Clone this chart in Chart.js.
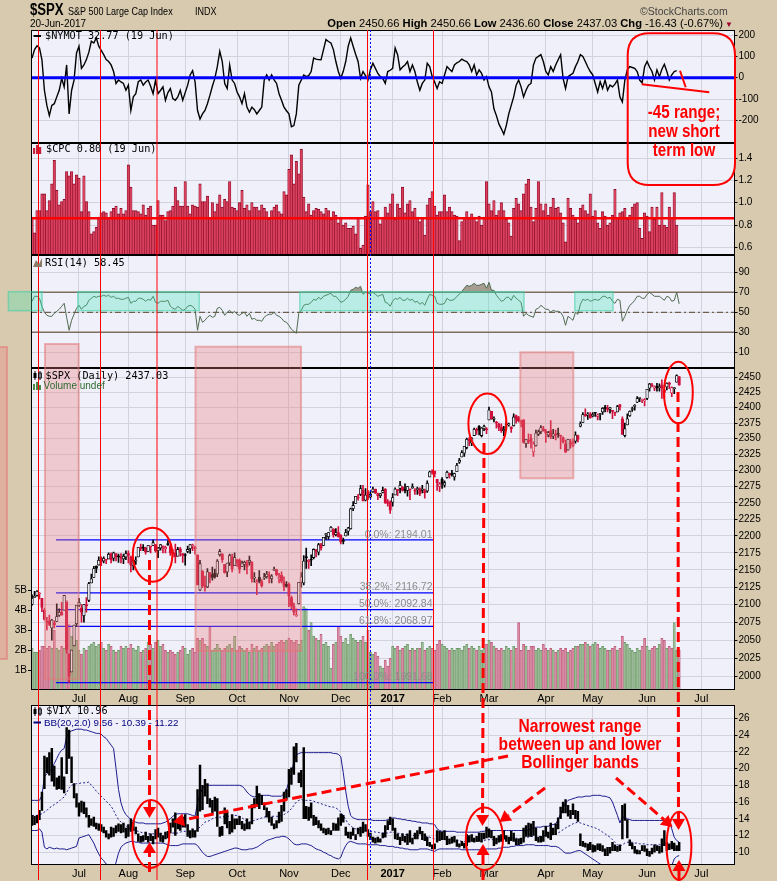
<!DOCTYPE html>
<html>
<head>
<meta charset="utf-8">
<title>$SPX with $NYMOT, $CPC, RSI and $VIX</title>
<script src="https://cdn.jsdelivr.net/npm/chart.js@4.4.1/dist/chart.umd.min.js"></script>
<style>
  html, body { margin: 0; padding: 0; background: #d8caae; }
  #wrap { position: relative; width: 777px; height: 881px; overflow: hidden; background: #d8caae; }
  #wrap canvas { position: absolute; left: 0; }
  .t { position: absolute; white-space: nowrap; line-height: 1; color: #000; }
  .mono { font-family: 'DejaVu Sans Mono', monospace; font-size: 10.2px; }
  .sans { font-family: 'Liberation Sans', Arial, sans-serif; }
  .narrow { font-family: 'Liberation Sans', Arial, sans-serif; transform: scaleX(0.82); transform-origin: 0 0; }
  .note { position: absolute; color: #ff0000; font-weight: bold; text-align: center; white-space: nowrap;
          font-family: 'Liberation Sans', Arial, sans-serif; transform: scaleX(0.82); transform-origin: 50% 0; }
</style>
</head>
<body>
<div id="wrap">
  <canvas id="cNymot" width="777" height="113" style="top:30px"></canvas>
  <canvas id="cCpc" width="777" height="112" style="top:143px"></canvas>
  <canvas id="cRsi" width="777" height="113" style="top:255px"></canvas>
  <canvas id="cSpx" width="777" height="338" style="top:368px"></canvas>
  <canvas id="cVix" width="777" height="176" style="top:705px"></canvas>
  <canvas id="overlay" width="777" height="881" style="top:0"></canvas>

  <div class="t narrow" style="left:30px;top:2px;font-size:16px;font-weight:bold">$SPX</div>
  <div class="t narrow" style="left:68px;top:5.8px;font-size:11px">S&amp;P 500 Large Cap Index</div>
  <div class="t narrow" style="left:195px;top:5.8px;font-size:11px">INDX</div>
  <div class="t sans" style="left:30px;top:18.5px;font-size:10px">20-Jun-2017</div>
  <div class="t sans" style="left:640px;top:5.5px;font-size:10.5px;color:#444">©StockCharts.com</div>
  <div class="t sans" style="right:44px;top:17.5px;font-size:11.2px"><b>Open</b> 2450.66 <b>High</b> 2450.66 <b>Low</b> 2436.60 <b>Close</b> 2437.03 <b>Chg</b> -16.43 (-0.67%)<span style="color:#a0002a;font-size:8px"> ▼</span></div>

  <div class="t mono" style="left:45px;top:31px">$NYMOT 32.77 (19 Jun)</div>
  <div class="t mono" style="left:46px;top:144.4px">$CPC 0.80 (19 Jun)</div>
  <div class="t mono" style="left:45px;top:257.8px">RSI(14) 58.45</div>
  <div class="t mono" style="left:45.6px;top:370.8px">$SPX (Daily) 2437.03</div>
  <div class="t sans" style="left:43.6px;top:380.8px;font-size:10px;color:#2e6b30">Volume undef</div>
  <div class="t mono" style="left:46.3px;top:706px">$VIX 10.96</div>
  <div class="t sans" style="left:44px;top:717.5px;font-size:9.8px;color:#000080">BB(20,2.0) 9.56 - 10.39 - 11.22</div>

  <div class="note" style="left:633.7px;width:100px;top:102.4px;font-size:18.5px;line-height:19px">-45 range;<br>new short<br>term low</div>
  <div class="note" style="left:479.5px;width:200px;top:716.5px;font-size:19px;line-height:18px">Narrowest range<br>between up and lower<br>Bollinger bands</div>
</div>

<script>
// ── Time axis (trading-day index, 0 = 1 Jul 2016) ─────────────────────────
const FIRST_IDX = -19;             // 6 Jun 2016
const X_MIN = -19.43, X_MAX = 265.4;
const monthIdx    = [0, 20, 43, 64, 85, 106, 127, 147, 166, 189, 208, 230, 252];
const monthLabels = ['Jul', 'Aug', 'Sep', 'Oct', 'Nov', 'Dec', '2017', 'Feb', 'Mar', 'Apr', 'May', 'Jun', 'Jul'];

// ── Tick labels ────────────────────────────────────────────────────────────
const nymotTicks = [-200, -100, 0, 100, 200];
const cpcTicks   = [0.6, 0.8, 1.0, 1.2, 1.4];
const rsiTicks   = [10, 30, 50, 70, 90];
const spxTicks   = [2000, 2025, 2050, 2075, 2100, 2125, 2150, 2175, 2200, 2225, 2250, 2275, 2300, 2325, 2350, 2375, 2400, 2425, 2450];
const volTicks   = [1, 2, 3, 4, 5];
const vixTicks   = [10, 12, 14, 16, 18, 20, 22, 24, 26];

// ── $SPX daily OHLC, 6 Jun 2016 .. 20 Jun 2017 ─────────────────────────────
const spxOpen = [
  2100,2110,2113,2115,2109,2092,2076,2077,2067,2074,2076,2085,2089,2092,2103,2031,2006,2042,2073,
  2099,2095,2084,2100,2106,2131,2139,2155,2157,2165,2163,2164,2166,2173,2167,2174,2169,2169,2166,2169,
  2174,2169,2156,2163,2169,2183,2182,2182,2177,2184,2186,2187,2178,2182,2184,2181,2187,2185,2176,2175,2170,2181,2174,
  2171,2177,2181,2185,2183,2172,2121,2148,2128,2125,2146,2143,2145,2144,2172,2173,2158,2147,2160,2169,2156,
  2165,2164,2155,2158,2160,2161,2161,2138,2131,2139,2133,2138,2140,2142,2137,2149,2150,2137,2142,2132,2129,
  2129,2110,2098,2084,2101,2132,2131,2168,2162,2165,2168,2177,2176,2187,2186,2202,2199,2207,2210,2202,2205,
  2201,2192,2200,2207,2211,2241,2249,2259,2263,2269,2254,2267,2259,2267,2271,2264,2261,2266,2271,2252,2251,
  2251,2262,2269,2272,2274,2269,2269,2271,2273,2269,2270,2272,2269,2268,2268,2290,2299,2299,2286,2275,
  2286,2277,2289,2294,2296,2290,2298,2313,2321,2327,2336,2350,2343,2355,2364,2370,2355,2366,2366,
  2380,2394,2381,2375,2373,2369,2363,2372,2372,2369,2371,2387,2384,2379,2380,2342,2346,2351,2329,2339,2357,2361,2366,
  2362,2356,2363,2354,2357,2357,2355,2352,2342,2332,2343,2346,2346,2355,2370,2376,2389,2388,2390,
  2387,2391,2386,2389,2393,2401,2399,2397,2394,2392,2393,2405,2382,2355,2372,2387,2397,2402,2409,2415,2412,2411,
  2415,2432,2437,2432,2435,2433,2437,2425,2434,2441,2424,2431,2442,2451
];
const spxHigh = [
  2114,2119,2120,2117,2109,2095,2082,2085,2079,2077,2101,2094,2103,2113,2103,2031,2036,2071,2099,
  2109,2100,2100,2110,2132,2144,2155,2156,2169,2169,2169,2165,2175,2175,2176,2174,2173,2174,2173,2178,
  2178,2170,2165,2169,2183,2188,2187,2183,2186,2184,2194,2187,2183,2187,2185,2185,2193,2186,2180,2188,2183,2183,2174,
  2174,2185,2187,2188,2185,2172,2164,2149,2141,2152,2146,2154,2151,2165,2180,2174,2158,2160,2173,2173,2175,
  2165,2166,2163,2163,2164,2170,2162,2146,2136,2149,2136,2145,2148,2147,2143,2154,2151,2145,2147,2140,2133,
  2131,2112,2102,2094,2132,2146,2171,2182,2165,2172,2181,2180,2189,2189,2198,2204,2205,2214,2211,2211,2214,
  2202,2197,2210,2213,2242,2252,2260,2263,2277,2277,2272,2269,2267,2274,2271,2265,2264,2274,2272,2255,2253,
  2264,2273,2270,2283,2275,2279,2275,2271,2279,2272,2274,2273,2277,2271,2284,2299,2301,2299,2286,2281,
  2289,2284,2299,2296,2300,2296,2311,2319,2331,2338,2351,2352,2352,2367,2367,2371,2368,2372,2368,
  2401,2394,2385,2378,2375,2374,2370,2377,2375,2369,2390,2388,2386,2380,2381,2349,2358,2357,2345,2364,2364,2371,2370,
  2365,2362,2379,2365,2364,2367,2356,2353,2348,2349,2349,2350,2361,2356,2377,2392,2398,2392,2392,
  2392,2392,2390,2391,2400,2404,2404,2400,2395,2393,2404,2405,2385,2375,2390,2395,2401,2405,2418,2416,2414,2415,
  2430,2440,2440,2436,2440,2439,2446,2430,2441,2442,2434,2433,2454,2451
];
const spxLow = [
  2099,2110,2112,2108,2090,2078,2064,2070,2050,2067,2076,2083,2085,2092,2032,1992,2006,2042,2069,
  2097,2075,2075,2089,2104,2131,2139,2146,2157,2156,2160,2159,2166,2160,2163,2163,2161,2160,2159,2165,
  2160,2147,2150,2158,2169,2178,2178,2173,2177,2175,2186,2176,2168,2179,2175,2175,2186,2171,2169,2160,2170,2170,2161,
  2157,2175,2174,2178,2173,2128,2120,2124,2119,2124,2131,2135,2138,2140,2170,2161,2145,2140,2156,2147,2156,
  2155,2145,2155,2150,2144,2157,2132,2132,2114,2131,2125,2136,2138,2131,2131,2149,2141,2131,2131,2120,2125,
  2097,2094,2085,2083,2101,2125,2128,2152,2152,2156,2166,2169,2172,2179,2186,2195,2195,2207,2198,2200,2198,
  2188,2188,2200,2201,2210,2238,2249,2254,2261,2253,2253,2255,2257,2266,2264,2255,2258,2265,2249,2245,2234,
  2245,2262,2261,2265,2268,2265,2260,2255,2272,2263,2263,2261,2265,2257,2266,2290,2294,2290,2269,2267,
  2272,2274,2288,2288,2291,2285,2298,2311,2321,2322,2334,2339,2339,2355,2357,2356,2353,2363,2358,
  2380,2381,2377,2367,2363,2360,2355,2365,2370,2360,2370,2375,2377,2369,2343,2336,2342,2335,2322,2338,2355,2358,2362,
  2344,2353,2350,2350,2348,2352,2334,2343,2328,2332,2335,2337,2343,2345,2369,2376,2386,2381,2383,
  2385,2386,2380,2380,2389,2393,2393,2391,2382,2387,2393,2396,2357,2353,2372,2386,2394,2396,2408,2410,2408,2403,
  2413,2427,2434,2428,2427,2427,2415,2416,2429,2431,2418,2423,2442,2437
];
const spxClose = [
  2109,2112,2119,2116,2096,2079,2075,2072,2078,2071,2083,2089,2085,2113,2037,2001,2036,2071,2099,
  2103,2089,2100,2098,2130,2137,2152,2152,2164,2162,2167,2164,2173,2165,2175,2169,2169,2167,2170,2174,
  2171,2157,2164,2164,2183,2181,2182,2176,2186,2184,2190,2178,2182,2187,2184,2183,2187,2175,2173,2169,2180,2176,2171,
  2171,2180,2187,2186,2181,2128,2159,2127,2126,2147,2139,2139,2140,2163,2177,2165,2146,2160,2171,2151,2168,
  2161,2151,2160,2161,2154,2164,2137,2139,2133,2133,2127,2140,2144,2141,2141,2151,2143,2139,2133,2126,2126,
  2112,2098,2089,2085,2132,2140,2163,2168,2164,2164,2180,2177,2187,2182,2198,2203,2205,2213,2202,2205,2199,
  2191,2192,2205,2212,2241,2246,2260,2257,2272,2253,2262,2258,2263,2271,2265,2261,2264,2269,2250,2249,2239,
  2258,2271,2269,2277,2269,2269,2275,2270,2275,2268,2272,2264,2271,2265,2280,2298,2297,2295,2281,2279,
  2280,2281,2297,2293,2293,2295,2308,2316,2328,2338,2349,2347,2351,2365,2363,2364,2367,2370,2364,
  2396,2382,2383,2375,2368,2363,2365,2373,2374,2366,2385,2381,2378,2374,2344,2349,2346,2344,2342,2359,2361,2368,2363,
  2359,2360,2353,2358,2356,2357,2354,2345,2329,2349,2342,2338,2356,2349,2374,2389,2387,2389,2384,
  2388,2391,2388,2390,2399,2399,2397,2400,2394,2391,2402,2401,2357,2366,2382,2394,2398,2404,2415,2416,2413,2412,
  2430,2439,2436,2433,2433,2434,2432,2429,2440,2438,2433,2433,2453,2437
];
// Volume, billions of shares
const spxVolume = [
  2.1,1.9,1.9,2.0,2.2,2.2,2.1,2.2,2.1,3.0,2.1,2.0,2.2,2.1,4.5,3.3,2.7,2.3,2.5,
  2.0,1.8,2.1,2.0,2.2,2.3,2.4,2.2,2.3,2.4,2.1,2.0,2.3,2.2,2.0,1.9,2.0,2.2,2.1,2.2,
  2.1,2.3,2.1,2.0,2.2,1.9,2.0,2.1,2.4,2.3,2.1,2.4,2.5,2.2,2.3,2.0,1.9,2.0,1.9,1.8,1.9,2.0,2.2,
  2.1,1.8,2.0,2.1,1.9,2.6,2.5,2.6,2.3,2.2,3.2,2.0,2.1,2.3,2.1,2.0,2.1,2.2,2.3,2.1,2.7,
  2.0,2.2,2.1,2.0,2.1,1.9,2.3,2.1,2.2,2.0,2.1,2.2,2.3,2.2,2.4,2.2,2.3,2.4,2.5,2.4,2.5,
  2.6,2.5,2.4,2.5,2.3,2.5,4.2,4.1,3.0,3.4,2.7,2.6,2.5,2.8,2.3,2.4,2.2,1.1,2.3,2.4,3.2,
  2.7,2.4,2.6,2.3,2.8,2.6,2.5,2.4,2.5,2.7,2.4,3.0,1.9,1.8,1.9,1.7,1.2,1.1,1.5,1.2,1.6,
  2.2,2.1,2.2,2.0,2.1,2.2,2.3,2.0,2.1,2.0,2.1,2.1,2.4,2.0,2.1,2.2,2.1,2.0,2.3,2.5,
  2.3,2.2,2.1,2.0,2.1,2.0,2.1,2.1,2.0,2.2,2.3,2.1,2.2,2.1,2.0,2.2,2.0,2.1,2.3,
  2.5,2.4,2.2,2.1,2.0,2.1,2.0,2.2,2.1,2.0,2.2,2.1,3.4,2.0,2.3,2.2,2.0,2.2,2.2,2.0,2.1,2.0,2.3,
  2.1,2.0,2.1,2.0,1.9,2.0,2.1,2.0,2.1,1.9,2.0,2.1,2.2,2.2,2.3,2.3,2.4,2.3,2.2,
  2.3,2.4,2.3,2.1,2.2,2.1,2.0,2.0,2.1,2.2,2.0,2.1,2.7,2.4,2.3,2.1,2.0,1.9,2.1,2.0,2.2,2.6,
  2.2,2.0,2.1,2.2,2.1,2.3,2.6,2.5,2.1,2.2,2.1,3.4,2.0,2.0
];

// ── $NYMOT (McClellan Oscillator), 6 Jun 2016 .. 19 Jun 2017 ───────────────
const nymot = [
  92,132,150,140,84,-59,-130,-178,-130,-122,-90,-59,-3,-43,60,-170,-60,-11,116,
  148,44,60,85,120,171,163,187,148,128,108,85,76,60,29,-27,-11,-20,-27,-59,
  -35,-154,-90,-75,-19,-11,-35,-20,-11,-40,-75,-11,-75,-60,-43,-106,-70,-51,-98,-106,
  -90,-59,-106,-70,-35,13,33,-19,-154,-194,-170,-154,-122,-83,-40,-3,52,124,76,-27,
  -51,60,-11,-27,-67,-90,-122,-75,-138,-162,-138,-150,-170,-154,-138,-11,13,-11,13,-10,
  -27,-75,-106,-138,-155,-170,-230,-225,-170,-35,-11,13,5,10,29,92,87,85,84,132,
  179,170,163,132,76,29,-3,30,76,148,187,148,110,76,-3,29,10,-11,37,68,
  44,20,5,-3,-27,29,35,44,140,108,37,50,60,76,29,60,29,-20,-59,-27,
  -11,68,52,5,-20,-51,-19,-27,13,52,40,29,60,70,76,87,80,76,60,29,
  60,13,37,20,-11,5,-43,-67,-146,-178,-217,-240,-265,-225,-170,-130,-90,-35,-11,-43,
  -90,-59,-35,-27,60,92,100,108,76,29,13,52,29,60,84,108,-3,-51,5,13,
  21,52,76,108,100,76,50,29,13,-27,-67,-19,-51,-11,-59,-35,-43,-30,-11,-90,
  -114,-11,37,52,48,44,29,-11,-24,52,76,50,29,-11,37,5,40,63,29,-11,
  13,29,33
];

// ── $CPC (equity put/call ratio), 6 Jun 2016 .. 19 Jun 2017 ────────────────
const cpc = [
  0.87,0.73,0.93,0.93,1.08,1.08,0.93,1.02,1.17,1.38,1.11,0.98,1.01,1.03,1.28,1.24,1.28,1.17,1.25,1.22,
  0.92,1.24,1.01,0.92,0.72,0.74,0.78,0.87,0.91,0.92,0.91,0.86,0.92,0.95,0.97,0.90,0.95,0.90,0.93,1.34,
  1.14,0.93,0.93,0.92,0.90,0.98,0.89,0.95,0.97,0.80,0.80,1.02,0.89,0.89,0.84,0.92,0.93,0.97,1.14,1.02,
  0.97,0.97,1.19,0.97,0.90,0.98,0.97,0.96,1.17,1.01,1.01,1.06,0.86,1.00,0.92,
  0.99,1.07,0.96,1.03,1.01,1.19,0.96,0.95,0.93,1.00,
  1.11,0.95,0.98,0.93,1.00,0.96,0.96,0.93,0.98,0.95,
  0.92,0.85,0.93,0.96,0.98,0.92,0.90,1.10,1.07,1.30,
  1.43,1.17,1.37,1.26,1.48,1.05,0.92,0.99,0.89,0.93,
  0.95,0.94,0.92,0.90,0.95,0.93,0.85,0.92,0.89,0.82,
  0.87,0.80,0.82,0.77,0.77,0.79,0.72,0.86,0.59,0.62,
  0.88,1.16,0.92,1.01,0.92,0.93,0.81,0.87,0.96,0.91,
  0.99,1.08,0.85,0.99,0.95,1.14,0.91,0.99,1.02,0.92,
  0.95,0.87,0.83,0.86,0.71,0.98,1.04,1.10,0.97,0.89,
  0.92,0.92,1.07,0.92,0.96,0.92,0.89,0.88,0.66,0.83,
  0.86,0.92,0.87,0.90,0.87,0.83,0.88,0.80,0.87,1.19,
  0.99,0.93,1.02,0.89,0.93,1.00,0.93,0.85,0.82,0.70,
  0.95,1.04,0.99,0.93,1.08,1.17,1.21,0.96,0.83,0.95,
  1.19,0.99,0.93,0.99,0.89,0.96,1.04,0.95,0.96,0.91,
  0.82,0.65,1.04,0.95,0.89,0.85,0.82,0.95,0.98,0.93,
  0.90,1.08,0.88,0.93,0.82,0.77,0.92,0.88,0.80,0.82,
  0.89,1.12,0.86,0.91,0.92,0.95,0.85,0.89,0.96,0.99,
  1.00,0.77,0.68,0.91,0.88,0.74,0.96,0.85,0.96,0.80,
  1.09,0.80,0.78,0.96,0.86,1.09,0.80
];

// ── RSI(14) of $SPX, 6 Jun 2016 .. 20 Jun 2017 ─────────────────────────────
const rsi = [
  61,66,66,64,56,50,47,46,46,49,51,53,56,59,45,32,42,48,54,
  57,53,56,57,62,64,66,65,66,66,67,66,67,65,66,64,64,63,63,64,
  65,59,61,61,64,64,63,61,63,62,66,60,59,61,61,61,62,56,54,53,
  56,54,52,53,56,57,56,53,32,46,40,42,45,47,45,46,54,55,52,47,
  50,52,49,51,48,47,49,50,46,49,43,44,42,42,41,45,47,48,48,50,
  47,46,44,41,40,37,33,31,29,49,52,57,58,58,60,63,62,65,63,66,
  67,68,69,66,66,63,60,61,63,66,72,73,75,74,76,68,70,69,69,70,
  68,66,67,68,60,59,56,61,64,63,65,62,62,64,62,63,60,61,58,60,
  57,63,68,67,66,59,58,58,59,64,62,62,63,66,68,71,74,77,76,77,
  79,77,77,78,79,74,80,72,72,67,64,61,62,65,65,62,67,64,62,60,
  46,49,47,46,45,53,54,57,55,53,53,50,52,51,51,50,46,37,46,44,
  42,50,48,58,63,62,63,61,62,63,62,63,66,66,64,65,61,59,63,62,
  41,46,52,57,59,62,66,66,64,64,68,70,68,66,66,66,64,62,66,65,
  61,62,70,58.45
];

// ── $VIX daily range, 6 Jun 2016 .. 20 Jun 2017 ────────────────────────────
const vixLow = [
  13.2,13.3,13.5,13.9,15.0,17.6,19.5,19.2,18.5,17.9,17.5,17.6,17.5,17.1,19.4,21.2,18.3,16.5,15.4,
  14.3,14.8,14.6,14.2,13.0,13.2,13.1,12.8,12.6,12.5,12.3,11.8,11.6,11.8,11.9,12.3,12.5,12.3,12.4,11.7,
  11.9,12.5,12.6,12.2,11.3,11.2,11.3,11.5,11.2,11.4,11.0,11.6,11.8,11.3,11.2,11.6,11.7,12.3,13.0,12.0,12.8,12.6,13.0,
  13.0,11.9,11.7,11.8,11.8,12.5,14.9,15.1,16.7,15.8,15.4,14.6,14.9,13.1,11.9,12.0,13.4,12.9,12.2,12.4,12.8,
  13.3,13.3,12.8,12.6,12.8,12.8,13.4,15.3,15.6,15.2,15.7,15.1,14.2,13.6,13.2,12.8,12.9,13.5,13.7,14.9,16.3,
  16.6,18.1,19.3,20.8,18.3,17.8,14.0,14.0,13.8,14.1,13.2,13.3,12.9,12.6,12.3,12.1,12.2,12.1,12.6,12.6,12.6,
  13.2,13.6,12.0,11.7,11.6,12.0,11.5,12.2,11.9,12.3,12.5,11.9,11.5,11.2,11.1,11.2,11.2,11.7,11.8,12.7,13.3,
  12.6,11.6,11.5,10.9,11.4,11.2,10.9,11.2,11.0,11.6,11.6,12.2,11.5,11.4,10.8,10.7,10.4,10.4,11.2,11.4,
  11.5,11.5,10.9,11.0,11.1,11.2,10.7,10.6,10.8,10.5,10.8,11.2,11.3,11.2,11.3,11.3,11.2,11.6,11.7,
  11.8,11.7,10.8,11.0,11.2,11.3,11.6,11.3,11.0,11.4,11.3,10.9,10.9,11.0,11.2,11.9,11.9,11.9,12.0,11.4,11.2,11.2,11.3,
  11.9,11.7,11.5,12.1,12.1,12.8,14.0,14.7,14.7,14.3,14.0,14.5,14.0,13.7,10.8,10.7,10.6,10.2,10.3,
  10.0,10.1,10.3,10.2,10.1,9.6,9.6,9.9,10.2,10.2,10.1,10.2,11.6,13.8,11.7,10.8,10.4,9.9,9.8,9.8,10.2,10.1,
  9.6,9.5,9.8,10.0,10.2,9.9,10.0,10.8,10.2,10.3,10.4,10.2,10.2,10.2
];
const vixHigh = [
  14.4,14.3,14.4,15.0,17.2,21.5,21.3,21.9,22.4,20.3,18.9,19.1,21.3,19.0,24.9,24.6,21.4,18.2,17.0,
  15.9,16.1,16.0,15.3,14.4,14.0,14.2,13.5,13.4,13.3,13.0,12.6,12.2,13.0,12.9,13.2,13.4,13.3,13.5,12.9,
  13.3,14.0,13.6,13.0,12.2,11.9,12.0,12.4,11.9,12.2,11.9,12.7,12.9,12.3,12.0,12.4,12.5,13.5,14.0,14.7,13.9,13.4,14.2,
  14.5,13.3,12.6,12.8,12.6,17.5,20.4,18.0,18.7,18.2,16.4,16.2,16.6,16.4,13.0,13.1,15.3,14.8,13.7,14.5,14.0,
  14.0,14.3,13.7,13.4,14.0,13.6,15.7,16.4,17.9,17.0,16.8,15.9,15.3,14.9,14.2,13.4,13.8,14.8,15.6,17.2,17.5,
  19.9,20.1,22.6,23.0,19.5,19.8,22.5,15.5,15.4,15.9,14.4,14.2,13.8,13.4,12.9,12.8,12.9,12.6,13.5,13.4,14.1,
  14.6,14.4,13.0,12.4,12.4,12.9,12.1,12.9,13.0,13.6,13.3,12.7,12.3,11.8,11.7,11.8,11.6,12.3,13.2,13.8,14.2,
  14.0,12.9,12.2,11.8,12.2,11.9,12.2,12.6,11.7,12.3,12.6,13.0,12.5,12.2,11.8,11.2,10.9,11.0,12.6,12.5,
  12.4,12.6,11.9,11.6,11.8,11.9,11.5,11.0,11.3,11.1,12.1,12.0,12.1,11.7,11.9,12.3,12.3,12.3,13.0,
  12.8,12.6,11.9,11.7,12.0,12.1,12.6,12.0,11.8,12.5,12.3,11.6,11.6,11.7,12.9,13.2,13.5,13.4,13.7,12.9,11.8,11.9,12.6,
  13.1,12.4,13.5,12.9,13.4,14.1,15.4,16.0,16.3,15.6,15.0,15.8,15.0,14.9,12.2,11.3,11.1,11.0,11.2,
  10.9,10.8,11.0,11.0,10.8,10.4,10.6,10.6,11.2,10.9,10.7,10.9,15.6,15.8,13.9,11.5,11.1,10.7,10.3,10.2,10.8,10.8,
  10.4,10.1,10.5,10.9,10.8,10.7,11.6,12.6,11.2,11.0,11.3,11.1,10.8,11.2
];

// ── Bollinger Bands (20,2) on $VIX ─────────────────────────────────────────
const bbUpper = [
  16.2,16.2,16.2,16.2,16.8,19.0,19.4,19.6,20.0,20.6,21.2,21.8,22.2,22.4,23.8,24.3,24.5,24.6,24.7,
  24.7,24.7,24.6,24.6,24.5,24.4,24.3,24.2,24.2,24.1,23.8,23.6,23.2,22.8,22.4,20.0,17.5,15.9,15.0,14.5,
  14.2,13.9,13.7,13.6,13.5,13.5,13.5,13.4,13.4,13.4,13.4,13.4,13.4,13.4,13.5,13.6,13.8,14.0,14.3,14.5,
  14.6,14.6,14.6,14.6,14.6,14.5,14.4,14.3,15.9,17.0,17.6,18.0,18.0,18.0,18.0,18.0,18.0,18.0,18.0,18.0,
  18.0,18.0,18.0,18.0,18.0,18.0,17.9,17.6,17.2,16.9,16.7,16.6,16.7,16.8,16.8,16.8,16.8,16.8,16.7,16.7,
  16.7,16.7,16.7,17.0,17.5,18.4,19.4,20.8,21.6,21.8,21.9,21.9,21.9,21.9,21.9,21.9,21.9,21.9,21.9,21.9,
  21.9,21.9,21.9,21.8,21.8,21.7,21.4,19.5,17.3,15.5,14.4,14.1,14.0,13.9,13.9,13.9,13.9,13.9,13.9,13.8,
  13.8,13.8,13.8,13.8,13.8,13.9,14.0,14.1,14.1,14.0,14.0,13.9,13.9,13.8,13.8,13.7,13.7,13.6,13.6,13.5,
  13.5,13.5,13.4,13.4,13.3,12.8,12.6,12.5,12.5,12.5,12.5,12.5,12.5,12.4,12.4,12.4,12.4,12.4,12.4,12.4,
  12.4,12.4,12.4,12.5,12.5,12.6,12.6,12.6,12.6,12.6,12.6,12.6,12.6,12.6,12.6,12.6,12.6,12.6,12.6,12.6,
  12.6,12.6,12.7,12.8,12.9,13.0,13.0,13.0,13.1,13.1,13.1,13.3,13.3,13.4,13.9,14.6,15.3,15.9,16.2,16.3,
  16.4,16.5,16.6,16.6,16.6,16.7,16.7,16.7,16.8,16.8,16.8,16.8,16.7,16.7,16.6,16.5,16.0,15.2,14.4,13.5,
  14.2,14.2,14.0,13.9,13.8,13.8,13.8,13.8,13.8,13.8,13.8,13.8,13.8,13.8,13.8,13.8,13.8,13.8,13.8,13.8,
  12.8,11.8,11.4,11.2
];
const bbMid = [
  14.4,14.4,14.4,14.5,14.6,14.8,15.0,15.3,15.5,15.7,15.9,16.1,16.4,16.6,17.1,17.7,18.0,18.1,18.2,
  18.2,18.3,18.3,18.3,18.4,18.0,17.7,17.3,17.0,16.7,16.4,16.1,15.8,15.5,15.0,14.4,13.9,13.6,13.4,13.2,
  12.9,12.8,12.7,12.6,12.5,12.4,12.3,12.3,12.2,12.2,12.2,12.2,12.2,12.2,12.2,12.2,12.2,12.2,12.3,12.3,
  12.3,12.4,12.5,12.5,12.5,12.5,12.5,12.5,12.8,13.0,13.3,13.6,13.7,13.8,14.0,14.1,14.2,14.2,14.2,14.3,
  14.3,14.3,14.4,14.4,14.4,14.3,14.1,13.9,13.7,13.6,13.7,13.8,13.9,14.0,14.1,14.2,14.3,14.3,14.3,14.3,
  14.3,14.3,14.4,14.5,14.7,14.9,15.2,15.6,16.0,16.2,16.3,16.2,16.2,16.2,16.2,16.1,16.0,15.9,15.8,15.7,
  15.6,15.5,15.4,15.4,15.3,15.1,14.8,14.4,13.9,13.4,13.2,12.9,12.8,12.7,12.7,12.7,12.6,12.6,12.5,12.5,
  12.4,12.4,12.3,12.3,12.3,12.3,12.4,12.4,12.3,12.3,12.2,12.2,12.1,12.1,12.0,12.0,12.0,12.0,12.0,12.0,
  11.9,11.9,11.8,11.7,11.6,11.6,11.6,11.6,11.5,11.5,11.5,11.5,11.4,11.4,11.4,11.3,11.3,11.3,11.3,11.3,
  11.3,11.3,11.3,11.3,11.4,11.5,11.5,11.5,11.5,11.5,11.6,11.6,11.6,11.6,11.6,11.7,11.7,11.7,11.6,11.6,
  11.7,11.8,11.8,11.9,11.9,11.9,11.9,11.9,12.0,12.0,12.0,12.0,12.1,12.2,12.3,12.5,12.7,12.9,13.1,13.2,
  13.4,13.5,13.6,13.5,13.4,13.3,13.2,13.1,13.0,12.9,12.8,12.6,12.4,12.2,12.0,11.8,11.5,11.2,10.9,10.7,
  10.9,11.1,11.2,11.2,11.2,11.1,11.1,11.0,11.0,11.0,10.9,10.9,10.9,10.9,10.9,10.9,10.9,10.9,10.9,10.8,
  10.6,10.5,10.4,10.4
];
const bbLower = [
  12.6,12.6,12.6,12.8,12.4,10.6,10.4,10.6,10.5,10.4,10.5,10.4,10.4,10.4,10.3,10.4,10.5,10.6,10.7,
  11.7,11.8,11.9,12.0,12.1,11.6,11.1,10.4,9.8,9.3,9.0,8.6,8.4,8.2,7.6,8.8,9.9,10.6,10.9,11.1,
  11.2,11.3,11.3,11.2,11.2,11.1,11.1,11.1,11.1,11.1,11.1,11.1,11.1,11.1,11.1,11.0,10.9,10.8,10.8,10.8,
  10.8,10.9,11.0,11.0,11.0,11.0,11.0,11.0,10.8,10.4,10.0,9.7,9.5,9.5,9.6,9.7,9.8,9.9,10.0,10.1,
  10.2,10.3,10.4,10.5,10.5,10.4,10.3,10.3,10.3,10.4,10.4,10.5,10.6,10.8,11.0,11.2,11.4,11.5,11.6,11.7,
  11.8,11.8,11.9,11.9,11.8,11.6,11.3,11.0,10.9,10.9,11.0,11.0,11.0,10.9,10.8,10.6,10.4,10.3,10.2,10.0,
  9.9,9.7,9.6,9.4,9.3,9.2,9.4,10.2,10.8,11.2,11.3,11.2,11.1,11.0,11.0,11.0,11.0,10.9,10.9,10.9,
  10.9,10.9,10.8,10.8,10.8,10.7,10.7,10.7,10.6,10.6,10.5,10.5,10.4,10.4,10.3,10.3,10.3,10.3,10.4,10.4,
  10.4,10.4,10.3,10.2,10.1,10.3,10.4,10.4,10.4,10.4,10.4,10.4,10.4,10.4,10.4,10.3,10.3,10.3,10.3,10.3,
  10.3,10.3,10.3,10.3,10.3,10.4,10.4,10.4,10.4,10.4,10.5,10.5,10.6,10.6,10.6,10.7,10.7,10.8,10.8,10.8,
  10.8,10.9,10.9,10.9,10.9,10.8,10.8,10.8,10.8,10.8,10.8,10.7,10.7,10.7,10.6,10.4,10.1,9.9,9.9,9.9,
  10.0,10.1,10.2,10.2,10.0,9.8,9.6,9.4,9.2,9.0,8.8,8.6,8.4,8.2,8.0,7.9,7.8,7.9,8.0,8.0,
  7.6,7.6,7.8,8.0,8.2,8.4,8.4,8.3,8.3,8.3,8.2,8.1,8.1,8.1,8.1,8.0,8.0,8.0,8.2,8.3,
  8.4,9.2,9.5,9.6
];

// ── Fibonacci retracement levels ───────────────────────────────────────────
const fibNames  = ['0.0%', '38.2%', '50.0%', '61.8%', '100.0%'];
const fibLevels = [2194.01, 2116.72, 2092.84, 2068.97, 1991.68];
const FIB_X0 = -9.3, FIB_X1 = 143.4;

// ── Styling ────────────────────────────────────────────────────────────────
const FONT = "'Liberation Sans', Arial, sans-serif";
const GRID = '#d3d3de';
const PLOT_BG = '#f0f0fa';
const RED = '#ff0000';
const AXIS_W = 42.5;

const pts = arr => arr.map((v, i) => ({ x: FIRST_IDX + i, y: v }));
const spans = (lo, hi) => lo.map((v, i) => ({ x: FIRST_IDX + i, y: [v, hi[i]] }));

function drawRefs(chart, list) {
  if (!list) return;
  const { ctx, chartArea: a, scales } = chart;
  list.forEach(r => {
    const py = scales.y.getPixelForValue(r.value);
    ctx.save();
    ctx.beginPath(); ctx.rect(a.left, a.top, a.right - a.left, a.bottom - a.top); ctx.clip();
    ctx.strokeStyle = r.color; ctx.lineWidth = r.width; ctx.setLineDash(r.dash || []);
    ctx.beginPath(); ctx.moveTo(a.left, py); ctx.lineTo(a.right, py); ctx.stroke();
    ctx.restore();
  });
}

const panelPlugin = {
  id: 'panel',
  beforeDraw(chart) {
    const { ctx, chartArea: a } = chart;
    ctx.save(); ctx.fillStyle = PLOT_BG;
    ctx.fillRect(a.left, a.top, a.right - a.left, a.bottom - a.top);
    ctx.restore();
  },
  beforeDatasetsDraw(chart, args, opts) { drawRefs(chart, opts.under); },
  afterDatasetsDraw(chart, args, opts) { drawRefs(chart, opts.over); },
  afterDraw(chart) {
    const { ctx, chartArea: a } = chart;
    ctx.save(); ctx.strokeStyle = '#000'; ctx.lineWidth = 1;
    ctx.strokeRect(Math.round(a.left) + 0.5, Math.round(a.top) + 0.5,
                   Math.round(a.right - a.left) - 1, Math.round(a.bottom - a.top) - 1);
    ctx.restore();
  }
};
Chart.register(panelPlugin);

// scales never ask the layout for room around their labels
function noPad(a) { a.paddingTop = 0; a.paddingBottom = 0; a.paddingLeft = 0; a.paddingRight = 0; }

function xAxis(showLabels) {
  return {
    type: 'linear', min: X_MIN, max: X_MAX, offset: false,
    afterBuildTicks: a => { a.ticks = monthIdx.map(v => ({ value: v })); },
    afterFit: a => { a.height = showLabels ? 16 : 0; noPad(a); },
    grid: { color: GRID, drawTicks: false, offset: false },
    border: { display: false },
    ticks: showLabels ? {
      display: true, autoSkip: false, maxRotation: 0, padding: 2, color: '#000',
      font: c => ({ family: FONT, size: 11, weight: (c.tick && c.tick.value === 127) ? 'bold' : 'normal' }),
      callback: v => monthLabels[monthIdx.indexOf(v)]
    } : { display: false }
  };
}

function yAxis(type, min, max, ticks, fmt) {
  return {
    type, position: 'right', min, max,
    afterBuildTicks: a => { a.ticks = ticks.map(v => ({ value: v })); },
    afterFit: a => { a.width = AXIS_W; noPad(a); },
    grid: { color: GRID, tickColor: '#000', tickLength: 3 },
    border: { display: false },
    ticks: { autoSkip: false, color: '#000', padding: 1, font: { family: FONT, size: 10 }, callback: fmt }
  };
}

function options(scales, panel, leftPad) {
  return {
    responsive: false, animation: false, events: [],
    layout: { padding: { left: leftPad, right: 0, top: 0, bottom: 0 }, autoPadding: false },
    plugins: { legend: { display: false }, tooltip: { enabled: false }, panel },
    scales
  };
}

// ── $NYMOT panel ───────────────────────────────────────────────────────────
new Chart(document.getElementById('cNymot'), {
  type: 'line',
  data: { datasets: [{ data: pts(nymot), borderColor: '#000', borderWidth: 1.4, pointRadius: 0, tension: 0 }] },
  options: options({ x: xAxis(false), y: yAxis('linear', -306.6, 224, nymotTicks, v => String(v)) },
    { over: [{ value: 0, color: '#0000ff', width: 3 }] }, 31)
});

// ── $CPC panel ─────────────────────────────────────────────────────────────
new Chart(document.getElementById('cCpc'), {
  type: 'bar',
  data: { datasets: [{
    data: pts(cpc), backgroundColor: '#d8405c', borderColor: '#8c0a2a',
    borderWidth: { top: 1, left: 0.6, right: 0.6, bottom: 0 }, borderSkipped: false,
    barThickness: 2.47, grouped: false
  }] },
  options: options({ x: xAxis(false), y: yAxis('linear', 0.531, 1.5354, cpcTicks, v => v.toFixed(1)) },
    { over: [{ value: 0.86, color: RED, width: 2.5 }] }, 31)
});

// ── RSI panel ──────────────────────────────────────────────────────────────
new Chart(document.getElementById('cRsi'), {
  type: 'line',
  data: { datasets: [{
    data: pts(rsi), borderColor: '#506a50', borderWidth: 1, pointRadius: 0, tension: 0,
    fill: { target: { value: 70 }, above: 'rgba(135,120,100,0.7)', below: 'rgba(0,0,0,0)' }
  }] },
  options: options({ x: xAxis(false), y: yAxis('linear', -5.7, 107.3, rsiTicks, v => String(v)) },
    { under: [
      { value: 70, color: '#7d6e5d', width: 1.5 },
      { value: 30, color: '#7d6e5d', width: 1.5 },
      { value: 50, color: '#6e5e4e', width: 1.2, dash: [6, 3, 2, 3] }
    ] }, 31)
});

// ── $SPX candles + volume + Fibonacci ──────────────────────────────────────
const upDay = spxClose.map((c, i) => i === 0 ? c >= spxOpen[0] : c >= spxClose[i - 1]);
const candleColor = upDay.map(u => u ? '#000000' : '#d0103a');
const candleFill = spxClose.map((c, i) => c > spxOpen[i] ? PLOT_BG : candleColor[i]);
const volFill = upDay.map(u => u ? 'rgba(150,185,145,0.85)' : 'rgba(214,135,160,0.85)');
const volEdge = upDay.map(u => u ? '#6f9a6a' : '#c0607f');

const fibSets = fibLevels.map(lv => ({
  type: 'line', data: [{ x: FIB_X0, y: lv }, { x: FIB_X1, y: lv }],
  borderColor: '#0000ff', borderWidth: 1.3, pointRadius: 0, order: 3
}));

const spxChart = new Chart(document.getElementById('cSpx'), {
  type: 'bar',
  data: { datasets: [
    { data: spans(spxOpen, spxClose), backgroundColor: candleFill, borderColor: candleColor,
      borderWidth: 0.8, borderSkipped: false, barThickness: 2.6, minBarLength: 1, grouped: false, order: 1 },
    { data: spans(spxLow, spxHigh), backgroundColor: candleColor, borderWidth: 0,
      barThickness: 1, grouped: false, order: 2 },
    ...fibSets,
    { data: pts(spxVolume), yAxisID: 'yv', backgroundColor: volFill, borderColor: volEdge,
      borderWidth: { top: 1, left: 0.5, right: 0.5, bottom: 0 }, borderSkipped: false,
      barThickness: 2.2, grouped: false, order: 4 }
  ] },
  options: options({
    x: xAxis(true),
    y: yAxis('logarithmic', 1981.7, 2465.5, spxTicks, v => String(v)),
    yv: {
      type: 'linear', position: 'left', min: 0, max: 16.22,
      afterBuildTicks: a => { a.ticks = volTicks.map(v => ({ value: v })); },
      afterFit: a => { a.width = 31; noPad(a); },
      grid: { drawOnChartArea: false, tickColor: '#000', tickLength: 3 },
      border: { display: false },
      ticks: { autoSkip: false, color: '#000', padding: 1, font: { family: FONT, size: 10 }, callback: v => v + 'B' }
    }
  }, {}, 0)
});

// ── $VIX with Bollinger Bands ──────────────────────────────────────────────
new Chart(document.getElementById('cVix'), {
  type: 'bar',
  data: { datasets: [
    { data: spans(vixLow, vixHigh), backgroundColor: '#000', barThickness: 1.8, grouped: false, order: 1 },
    { type: 'line', data: pts(bbUpper), borderColor: '#1c1c8e', borderWidth: 1, pointRadius: 0, order: 2 },
    { type: 'line', data: pts(bbMid), borderColor: '#1c1c8e', borderWidth: 1, borderDash: [2, 2], pointRadius: 0, order: 2 },
    { type: 'line', data: pts(bbLower), borderColor: '#1c1c8e', borderWidth: 1, pointRadius: 0, order: 2 }
  ] },
  options: options({ x: xAxis(true), y: yAxis('linear', 8.48, 27.59, vixTicks, v => String(v)) }, {}, 31)
});

// ── Fibonacci labels (real text, placed on the price scale) ───────────────
const wrap = document.getElementById('wrap');
fibLevels.forEach((lv, i) => {
  const y = 368 + spxChart.scales.y.getPixelForValue(lv);
  const d = document.createElement('div');
  d.className = 't sans';
  d.style.cssText = `right:${777 - 432.5}px;top:${y - 11.4}px;font-size:10.5px;color:#8c8c8c`;
  d.textContent = `${fibNames[i]}: ${lv.toFixed(2)}`;
  wrap.appendChild(d);
});

// ── Hand-drawn annotations ─────────────────────────────────────────────────
(function drawOverlay() {
  const g = document.getElementById('overlay').getContext('2d');

  // shaded zones
  g.lineWidth = 2;
  [[-10, 347, 17, 312], [45, 344, 33.7, 335.3], [195.5, 346.7, 105.5, 304.3], [520.3, 352.3, 53, 126]].forEach(r => {
    g.fillStyle = 'rgba(235,125,125,0.33)'; g.fillRect(...r);
    g.strokeStyle = 'rgba(225,120,120,0.55)'; g.strokeRect(...r);
  });
  g.lineWidth = 1.5;
  [[8.4, 291.7, 33.7, 19], [77.8, 291.7, 121.4, 19], [299.8, 291.7, 224.2, 19], [574.8, 291.7, 38.2, 19]].forEach(r => {
    g.fillStyle = 'rgba(60,230,180,0.30)'; g.fillRect(...r);
    g.strokeStyle = 'rgba(60,205,165,0.55)'; g.strokeRect(...r);
  });

  // vertical marker lines
  g.strokeStyle = RED; g.lineWidth = 1;
  [38.5, 100.5, 157, 367.5, 433.5].forEach(x => {
    g.beginPath(); g.moveTo(x, 30); g.lineTo(x, 880); g.stroke();
  });
  g.strokeStyle = '#0000ff'; g.setLineDash([2, 2]);
  g.beginPath(); g.moveTo(370.5, 30); g.lineTo(370.5, 870); g.stroke();
  g.setLineDash([]);

  // legend icons
  g.fillStyle = '#000'; g.fillRect(33.5, 35, 7.5, 2);
  g.fillStyle = '#c8203c'; [[33, 148, 2.2, 6], [36, 145, 2.2, 9], [39, 147, 2.2, 7]].forEach(r => g.fillRect(...r));
  g.fillStyle = '#8a7a66'; g.beginPath(); g.moveTo(33, 267); g.lineTo(36, 260); g.lineTo(39, 264); g.lineTo(42, 258); g.lineTo(42, 267); g.fill();
  [371, 707].forEach(y => {
    g.fillStyle = '#000'; g.fillRect(34.5, y, 1, 9); g.fillRect(33.5, y + 2, 3, 5);
    g.fillRect(39.5, y, 1, 9); g.strokeStyle = '#000'; g.lineWidth = 0.8; g.strokeRect(38.5, y + 2, 3, 5);
  });
  g.fillStyle = '#4a8a4a'; [[33, 384, 2, 6], [36, 382, 2, 8], [39, 385, 2, 5]].forEach(r => g.fillRect(...r));
  g.fillStyle = '#000080'; g.fillRect(33.5, 721.5, 7.5, 2);

  // ellipses
  g.strokeStyle = RED; g.lineWidth = 2;
  [[152.6, 554.7, 19.8, 27], [487.4, 423.7, 19, 30.3], [678.4, 392.5, 14.4, 30.8],
   [150.8, 834, 18.5, 34], [484.4, 838.7, 18.6, 31.3], [679, 845.8, 12.4, 34]].forEach(([cx, cy, rx, ry]) => {
    g.beginPath(); g.ellipse(cx, cy, rx, ry, 0, 0, Math.PI * 2); g.stroke();
  });

  // NYMOT call-out
  const r = 22, x0 = 627.7, y0 = 33.3, x1 = 735, y1 = 185;
  g.beginPath();
  g.moveTo(x0 + r, y0); g.lineTo(x1 - r, y0); g.quadraticCurveTo(x1, y0, x1, y0 + r);
  g.lineTo(x1, y1 - r); g.quadraticCurveTo(x1, y1, x1 - r, y1);
  g.lineTo(x0 + r, y1); g.quadraticCurveTo(x0, y1, x0, y1 - r);
  g.lineTo(x0, y0 + r); g.quadraticCurveTo(x0, y0, x0 + r, y0);
  g.stroke();
  g.beginPath(); g.moveTo(641.7, 84.3); g.lineTo(709.3, 92.3); g.stroke();
  g.beginPath(); g.moveTo(680, 70.7); g.lineTo(685.7, 87.3); g.stroke();

  // dashed arrows
  function arrow(xa, ya, xb, yb) {
    const ang = Math.atan2(yb - ya, xb - xa), L = 11, W = 6.5;
    const bx = xb - L * Math.cos(ang), by = yb - L * Math.sin(ang);
    g.save();
    g.strokeStyle = RED; g.lineWidth = 3; g.setLineDash([10, 5]);
    g.beginPath(); g.moveTo(xa, ya); g.lineTo(bx, by); g.stroke();
    g.setLineDash([]); g.fillStyle = RED;
    g.beginPath(); g.moveTo(xb, yb);
    g.lineTo(bx + W * Math.sin(ang), by - W * Math.cos(ang));
    g.lineTo(bx - W * Math.sin(ang), by + W * Math.cos(ang));
    g.closePath(); g.fill();
    g.restore();
  }
  [[149.5, 560, 149.5, 818], [149.5, 872, 149.5, 842],
   [484, 443, 482.5, 826], [483, 880, 483, 844],
   [678, 392, 678.5, 830], [679, 881, 679, 860],
   [508, 756, 173, 822], [545, 788, 499.5, 822], [616, 778, 672.5, 827]].forEach(a => arrow(...a));
})();
</script>
</body>
</html>
